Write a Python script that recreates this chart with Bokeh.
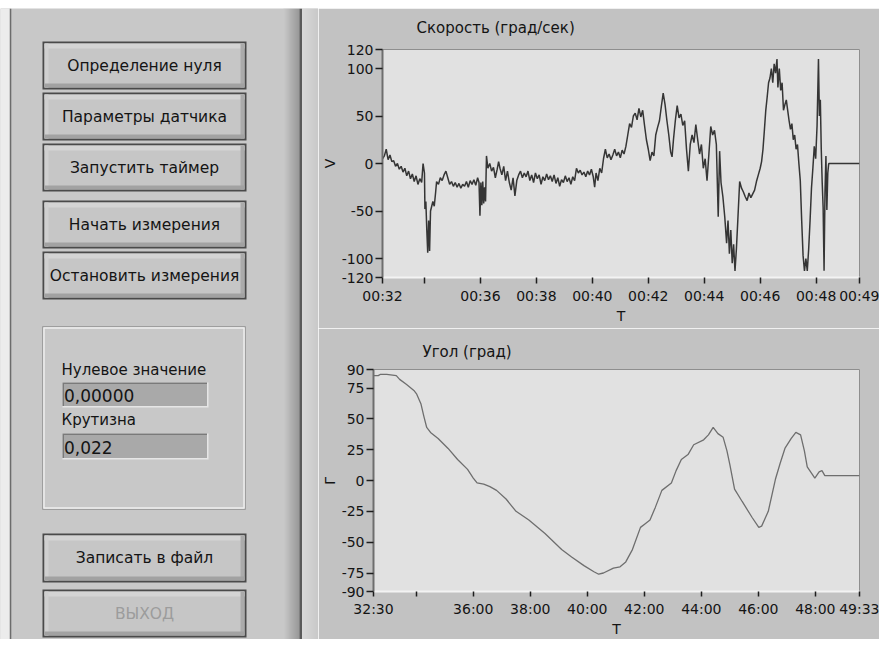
from bokeh.plotting import figure
from bokeh.layouts import row, column
from bokeh.models import Range1d, FixedTicker, Spacer
from bokeh.embed import file_html
from bokeh.resources import INLINE
from bokeh.core.properties import value

FONT = "DejaVu Sans"

# ------------------------------------------------------------------ data
# time in seconds (00:32:30 = 1950 s), velocity in deg/s
vel_t = [1950, 1954, 1958, 1962, 1966, 1970, 1974, 1978, 1982, 1986,
         1990, 1994, 1998, 2002, 2006, 2010, 2014, 2018, 2022, 2026,
         2030, 2034, 2037, 2040, 2041, 2043, 2045, 2047, 2049, 2051,
         2053, 2055, 2058, 2061, 2064, 2066, 2070, 2074, 2078, 2082,
         2086, 2090, 2094, 2098, 2102, 2106, 2110, 2114, 2118, 2122,
         2126, 2130, 2134, 2138, 2142, 2146, 2150, 2154, 2157, 2159,
         2161, 2163, 2165, 2167, 2169, 2171, 2173, 2176, 2180, 2184,
         2188, 2192, 2196, 2199, 2202, 2206, 2210, 2214, 2218, 2222,
         2226, 2230, 2234, 2238, 2242, 2246, 2250, 2254, 2258, 2262,
         2266, 2270, 2274, 2278, 2282, 2286, 2290, 2294, 2298, 2302,
         2306, 2310, 2314, 2318, 2322, 2326, 2330, 2334, 2338, 2342,
         2346, 2350, 2354, 2358, 2362, 2366, 2370, 2374, 2378, 2382,
         2386, 2390, 2394, 2398, 2402, 2405, 2408, 2412, 2416, 2420,
         2424, 2428, 2432, 2436, 2440, 2444, 2448, 2452, 2456, 2460,
         2464, 2468, 2472, 2476, 2480, 2484, 2488, 2492, 2496, 2500,
         2504, 2508, 2512, 2516, 2520, 2524, 2528, 2532, 2536, 2540,
         2544, 2548, 2552, 2556, 2560, 2564, 2568, 2571, 2574, 2578,
         2582, 2586, 2590, 2594, 2598, 2602, 2606, 2610, 2614, 2618,
         2622, 2626, 2630, 2634, 2638, 2642, 2646, 2650, 2654, 2658,
         2662, 2666, 2670, 2673, 2676, 2680, 2684, 2688, 2691, 2694,
         2697, 2700, 2703, 2706, 2709, 2712, 2716, 2720, 2724, 2728,
         2732, 2736, 2740, 2744, 2748, 2752, 2756, 2760, 2763, 2766,
         2769, 2772, 2775, 2778, 2781, 2784, 2787, 2790, 2793, 2796,
         2798, 2801, 2804, 2807, 2810, 2813, 2816, 2819, 2822, 2825,
         2828, 2831, 2834, 2837, 2840, 2843, 2846, 2849, 2852, 2855,
         2858, 2861, 2864, 2867, 2870, 2873, 2876, 2879, 2882, 2885,
         2887, 2889, 2891, 2893, 2895, 2897, 2899, 2901, 2903, 2905,
         2907, 2973]
vel_v = [5, 8, 15, 4, 9, 2, 3, -3, 0, -6,
         -3, -9, -5, -13, -8, -16, -11, -19, -13, -22,
         -16, -20, 0, -10, -48, -40, -70, -94, -60, -92,
         -50, -46, -40, -45, -30, -19, -22, -15, -18, -12,
         -8, -15, -22, -19, -24, -20, -25, -21, -26, -22,
         -24, -19, -25, -18, -22, -17, -23, -15, -20, -55,
         -20, -44, -19, -42, -25, -40, 8, -5, 0, -8,
         -4, -15, -6, 2, -5, -12, -3, -18, -8, -20,
         -28, -15, -34, -18, -12, -8, -15, -10, -14, -8,
         -18, -12, -20, -10, -16, -12, -22, -14, -18, -11,
         -17, -13, -19, -12, -21, -15, -24, -17, -20, -13,
         -19, -15, -22, -14, -18, -5, -10, -7, -12, -9,
         -14, -8, -12, -6, -14, -25, -10, -18, -5, -10,
         5, 15, 6, 10, 4, 9, 15, 8, 12, 6,
         14, 10, 18, 30, 42, 38, 50, 53, 46, 58,
         49, 56, 40, 25, 15, 3, 12, 8, 30, 38,
         45, 60, 74, 62, 45, 30, 12, 7, 25, 45,
         61, 48, 52, 40, 45, 15, -8, 20, 30, 22,
         41, 25, 10, 20, -5, 5, -18, 10, 39, 30,
         35, 20, -56, 13, -20, -35, -56, -84, -60, -95,
         -70, -105, -85, -113, -90, -60, -19, -26, -30, -35,
         -39, -31, -36, -32, -28, -19, -12, -5, 2, 15,
         35, 56, 70, 85, 90, 100, 85, 105, 95, 110,
         80, 100, 77, 85, 56, 62, 67, 56, 45, 36,
         42, 25, 30, 15, 20, 0, -18, -60, -97, -113,
         -100, -113, -90, -60, -26, -5, 18, 5, 40, 110,
         50, 67, 15, -20, -46, -113, -30, 8, -49, -10,
         0, 0]

# angle in degrees
ang_t = [1950, 1960, 1964, 1978, 1998, 2005, 2019, 2035, 2041, 2050,
         2056, 2062, 2070, 2086, 2107, 2127, 2148, 2160, 2168, 2182,
         2195, 2209, 2229, 2250, 2277, 2311, 2346, 2367, 2393, 2414,
         2424, 2434, 2455, 2469, 2481, 2495, 2512, 2522, 2532, 2543,
         2557, 2577, 2587, 2598, 2612, 2624, 2645, 2655, 2665, 2675,
         2686, 2694, 2700, 2710, 2726, 2747, 2761, 2767, 2781, 2796,
         2806, 2816, 2829, 2839, 2849, 2857, 2863, 2879, 2888, 2894,
         2900, 2973]
ang_v = [85, 85, 86, 86, 85, 82, 78, 73, 70, 62,
         52, 43, 39, 34, 26, 17, 9, 2, -2, -3,
         -5, -8, -15, -25, -32, -43, -56, -62, -69, -74,
         -76, -75, -71, -70, -66, -56, -38, -35, -32, -22,
         -8, -2, 8, 17, 21, 29, 33, 37, 43, 38,
         35, 24, 13, -7, -17, -30, -38, -37, -25, 1,
         14, 26, 34, 39, 37, 24, 11, 2, 7, 8,
         4, 4]

time_ticks = [1950, 2040, 2160, 2280, 2400, 2520, 2640, 2760, 2880, 2973]
vel_time_labels = ["00:32", "", "00:36", "00:38", "00:40", "00:42",
                   "00:44", "00:46", "00:48", "00:49"]
ang_time_labels = ["32:30", "", "36:00", "38:00", "40:00", "42:00",
                   "44:00", "46:00", "48:00", "49:33"]
vel_ticks = [120, 100, 50, 0, -50, -100, -120]
ang_ticks = [90, 75, 50, 25, 0, -25, -50, -75, -90]

vel_title = "Скорость (град/сек)"
ang_title = "Угол (град)"
time_name = "T"
vel_name = "V"
ang_name = "Г"

control_buttons = ["Определение нуля", "Параметры датчика", "Запустить таймер",
                   "Начать измерения", "Остановить измерения"]
field_names = ["Нулевое значение", "Крутизна"]
field_values = ["0,00000", "0,022"]
file_button = "Записать в файл"
exit_button = "ВЫХОД"

# ------------------------------------------------------------------ layout / styles
PANEL_L = "#c8c8c8"
PANEL_R = "#c2c2c2"
PLOT_BG = "#e1e1e1"
TXT = "#141414"

TOP_Y = 8          # white band above the panels
BOTTOM_Y = 639
LEFT_W = 318
RIGHT_W = 561

BTN_X = (42, 246)
CTRL_BTN_Y = [(41, 89), (92, 140), (143, 191), (200, 248), (251, 299)]
FILE_BTN_Y = (533, 582)
EXIT_BTN_Y = (589, 637)
FRAME_BOX = (42, 245, 326, 509)
FIELD_LABEL_Y = [369, 419]
FIELD_BOX_Y = [(382, 407), (433, 459)]
FIELD_X = (62, 208)


def grey(v):
    v = max(0, min(255, int(v)))
    return "#%02x%02x%02x" % (v, v, v)


# ------------------------------------------------------------------ left panel
L = figure(width=LEFT_W, height=BOTTOM_Y - TOP_Y,
           x_range=Range1d(0, LEFT_W), y_range=Range1d(BOTTOM_Y, TOP_Y),
           x_axis_location=None, y_axis_location=None, toolbar_location=None,
           output_backend="svg", min_border=0)
L.grid.visible = False
L.outline_line_color = None
L.background_fill_color = PANEL_L
L.border_fill_color = PANEL_L


def box(x0, x1, y0, y1, color):
    L.quad(left=x0, right=x1, top=y0, bottom=y1, fill_color=color, line_color=None)


# outer left edge
box(0, 9.3, TOP_Y, BOTTOM_Y, "#ececec")
box(9.3, 10.8, TOP_Y, BOTTOM_Y, "#6c6c6c")
# divider between panels
for k in range(16):
    box(283 + k, 284 + k, TOP_Y, BOTTOM_Y, grey(200 - k * 4.2))
box(299, 301.5, TOP_Y, BOTTOM_Y, "#5a5a5a")
for k in range(17):
    box(301.5 + k, 302.5 + k, TOP_Y, BOTTOM_Y, grey(216 - k * 1.0))


def button(y0, y1, label, color=TXT):
    x0, x1 = BTN_X
    box(x0, x1, y0, y1, "#4a4a4a")
    box(x0 + 2, x1 - 2, y0 + 2, y1 - 2, "#c6c6c6")
    box(x0 + 2, x1 - 2, y0 + 2, y0 + 7, "#d4d4d4")
    box(x0 + 2, x0 + 6, y0 + 2, y1 - 2, "#d0d0d0")
    box(x1 - 6, x1 - 2, y0 + 2, y1 - 2, "#ababab")
    box(x0 + 2, x1 - 2, y1 - 6, y1 - 2, "#a2a2a2")
    L.text(x=[(x0 + x1) / 2], y=[(y0 + y1) / 2], text=[label],
           text_font=value(FONT), text_font_size="15.5px", text_color=color,
           text_align="center", text_baseline="middle")


for (y0, y1), lab in zip(CTRL_BTN_Y, control_buttons):
    button(y0, y1, lab)
button(*FILE_BTN_Y, file_button)
button(*EXIT_BTN_Y, exit_button, color="#9c9c9c")

# indicator frame
fx0, fx1, fy0, fy1 = FRAME_BOX
L.quad(left=fx0, right=fx1, top=fy0, bottom=fy1, fill_color=None,
       line_color="#9e9e9e", line_width=1)
L.quad(left=fx0 + 1.5, right=fx1 - 1.5, top=fy0 + 1.5, bottom=fy1 - 1.5,
       fill_color=None, line_color="#eeeeee", line_width=1.5)

for ly, (by0, by1), name, val in zip(FIELD_LABEL_Y, FIELD_BOX_Y, field_names, field_values):
    L.text(x=[FIELD_X[0] - 1], y=[ly], text=[name], text_font=value(FONT),
           text_font_size="15px", text_color=TXT, text_align="left",
           text_baseline="middle")
    box(FIELD_X[0], FIELD_X[1], by0, by1, "#e6e6e6")
    box(FIELD_X[0], FIELD_X[1] - 1.5, by0, by1 - 1.5, "#7a7a7a")
    box(FIELD_X[0] + 1.5, FIELD_X[1] - 1.5, by0 + 1.5, by1 - 1.5, "#a9a9a9")
    L.text(x=[FIELD_X[0] + 1.5], y=[(by0 + by1) / 2 + 0.5], text=[val],
           text_font=value(FONT), text_font_size="17px", text_color=TXT,
           text_align="left", text_baseline="middle")


# ------------------------------------------------------------------ charts
def chart(t, v, line_color, line_width, title, title_offset, title_standoff,
          title_valign, yname, yticks, xlabels, height, b_top, b_bottom,
          b_left, b_right, tick_out_x):
    p = figure(width=RIGHT_W, height=height,
               x_range=Range1d(time_ticks[0], time_ticks[-1]),
               y_range=Range1d(min(yticks), max(yticks)),
               toolbar_location=None, output_backend="svg",
               min_border_top=b_top, min_border_bottom=b_bottom,
               min_border_left=b_left, min_border_right=b_right)
    p.background_fill_color = PLOT_BG
    p.border_fill_color = PANEL_R
    p.outline_line_color = "#8e8e8e"
    p.grid.visible = False

    p.title.text = title
    p.title.align = "left"
    p.title.vertical_align = title_valign
    p.title.offset = title_offset
    p.title.text_font = FONT
    p.title.text_font_size = "15px"
    p.title.text_font_style = "normal"
    p.title.text_color = TXT
    p.title.standoff = title_standoff

    xa = p.xaxis[0]
    xa.ticker = FixedTicker(ticks=time_ticks)
    xa.major_label_overrides = {tk: lb for tk, lb in zip(time_ticks, xlabels)}
    xa.minor_tick_line_color = None
    xa.major_tick_in = 0
    xa.major_tick_out = tick_out_x
    xa.major_tick_line_color = "#1e1e1e"
    xa.major_tick_line_width = 1.5
    xa.axis_line_color = "#f3f3f3"
    xa.axis_line_width = 2
    xa.major_label_standoff = 4
    xa.major_label_text_font = FONT
    xa.major_label_text_font_size = "14px"
    xa.major_label_text_color = TXT
    xa.axis_label = time_name
    xa.axis_label_text_font = FONT
    xa.axis_label_text_font_size = "14px"
    xa.axis_label_text_font_style = "normal"
    xa.axis_label_text_color = TXT
    xa.axis_label_standoff = 1

    ya = p.yaxis[0]
    ya.ticker = FixedTicker(ticks=yticks)
    ya.major_label_overrides = {tk: str(tk) for tk in yticks}
    ya.minor_tick_line_color = None
    ya.major_tick_in = 0
    ya.major_tick_out = 7
    ya.major_tick_line_color = "#1e1e1e"
    ya.major_tick_line_width = 1.5
    ya.axis_line_color = "#6e6e6e"
    ya.axis_line_width = 2
    ya.major_label_standoff = 2
    ya.major_label_text_font = FONT
    ya.major_label_text_font_size = "14px"
    ya.major_label_text_color = TXT
    ya.axis_label = yname
    ya.axis_label_text_font = FONT
    ya.axis_label_text_font_size = "14px"
    ya.axis_label_text_font_style = "normal"
    ya.axis_label_text_color = TXT
    ya.axis_label_standoff = 1

    p.line(t, v, line_color=line_color, line_width=line_width)
    return p


top = chart(vel_t, vel_v, "#353535", 1.5, vel_title, 34, 21, "top", vel_name,
            vel_ticks, vel_time_labels, 320, 40, 51, 64, 20, 6)
bottom = chart(ang_t, ang_v, "#6e6e6e", 1.3, ang_title, 49, 17, "bottom", ang_name,
               ang_ticks, ang_time_labels, BOTTOM_Y - TOP_Y - 320, 41, 44, 55, 20, 5)

# each chart in its own box so that their frames are not aligned to each other
layout = column(Spacer(width=LEFT_W + RIGHT_W, height=TOP_Y),
                row(L, column(row(top), row(bottom), spacing=0), spacing=0),
                spacing=0)

with open("out.html", "w") as f:
    f.write(file_html(layout, INLINE))
